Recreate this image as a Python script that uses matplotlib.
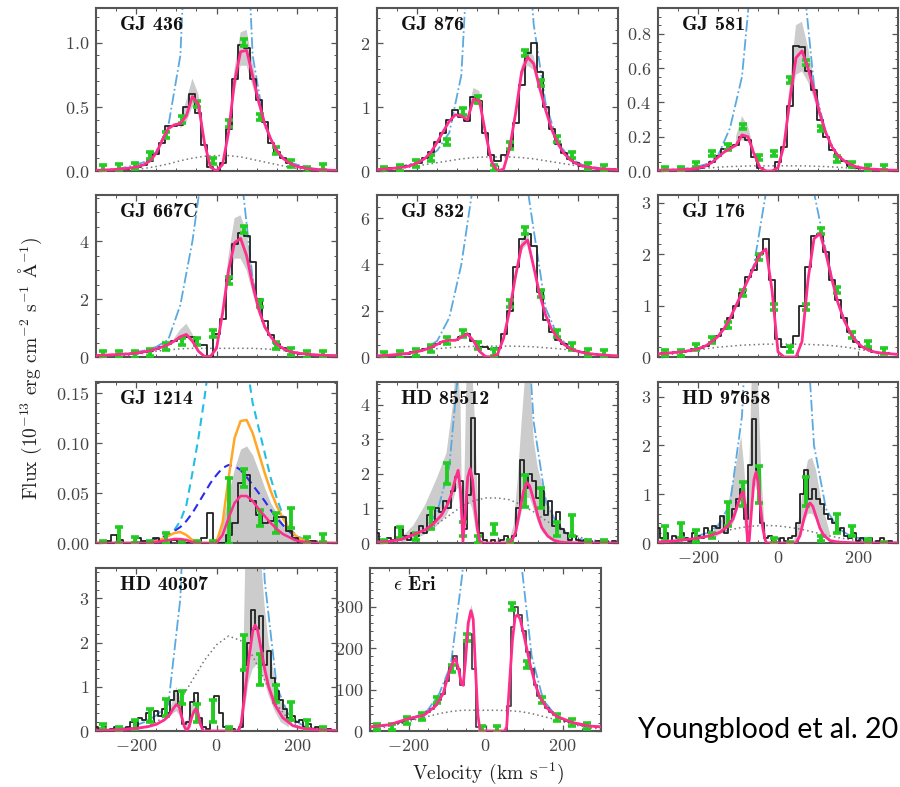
import numpy as np
import matplotlib
matplotlib.use("Agg")
import matplotlib.pyplot as plt
from matplotlib.ticker import MultipleLocator, AutoMinorLocator

nan = np.nan

# ---------------- velocity grids (km/s) ----------------
V15 = np.arange(-300, 301, 15)   # 41 pts: model / data of smooth panels
V30 = np.arange(-300, 301, 30)   # 21 pts: broad + intrinsic profiles
V10 = np.arange(-300, 301, 10)   # 61 pts: data of noisy panels
VG = np.arange(-282, 300, 39)    # 15 pts: green binned points

# ---------------- GJ 436 ----------------
gj436_model = [.005,.007,.009,.012,.015,.02,.026,.035,.05,.08,.14,.24,.33,.36,.37,.43,.58,.52,.22,.03,
               .0,.05,.3,.7,.93,.94,.74,.54,.37,.25,.16,.1,.065,.042,.028,.02,.014,.01,.008,.006,.005]
gj436_data = [.005,.004,.006,.01,.012,.015,.02,.03,.05,.08,.13,.22,.35,.35,.36,.5,.6,.45,.2,.03,
              .0,.06,.33,.72,.98,.96,.72,.55,.38,.22,.15,.1,.06,.04,.03,.02,.015,.01,.008,.005,.005]
gj436_band_v = [-90,-75,-60,-45,-30,nan,30,45,60,75,90,105]
gj436_band_lo = [.33,.38,.5,.45,.2,nan,.26,.62,.82,.82,.66,.5]
gj436_band_hi = [.4,.55,.72,.6,.26,nan,.34,.8,1.08,1.1,.84,.6]
gj436_broad = [0,.001,.004,.01,.02,.035,.055,.08,.1,.115,.12,.12,.11,.09,.07,.05,.03,.016,.007,.003,.001]
gj436_intr = [.005,.01,.02,.04,.07,.15,.35,.9,3,8,10,8,3,.9,.35,.15,.07,.04,.02,.01,.005]
gj436_green = [.02,.03,.04,.12,.28,.4,.52,.08,.37,1.0,.42,.16,.06,.01,.03]

# ---------------- GJ 876 ----------------
gj876_model = [.02,.03,.035,.045,.055,.07,.1,.14,.2,.3,.45,.62,.78,.88,.86,.8,1.12,1.1,.6,.15,
               .0,.03,.35,.9,1.55,1.78,1.68,1.3,.95,.65,.43,.28,.18,.12,.08,.06,.045,.035,.03,.025,.02]
gj876_data = [.02,.03,.04,.05,.06,.08,.1,.13,.2,.3,.45,.6,.8,.95,.85,.78,1.15,1.1,.6,.25,
              .15,.25,.35,.75,1.35,1.85,2.0,1.55,1.0,.65,.42,.28,.18,.12,.08,.06,.045,.035,.03,.025,.02]
gj876_band_v = [-75,-60,-45,-30,nan,45,60,75,90,105]
gj876_band_lo = [.75,1.05,1.02,.55,nan,.85,1.45,1.65,1.58,1.22]
gj876_band_hi = [.85,1.3,1.25,.65,nan,.95,1.65,1.92,1.8,1.38]
gj876_broad = [.01,.02,.04,.07,.1,.13,.16,.19,.21,.22,.22,.22,.21,.19,.16,.13,.1,.07,.04,.02,.01]
gj876_intr = [.02,.04,.07,.12,.2,.32,.6,1.5,5,12,15,12,5,2.3,1.05,.45,.2,.1,.06,.03,.02]
gj876_green = [.02,.05,.12,.2,.45,.93,1.12,.05,.4,1.85,1.38,.5,.25,.08,.04]

# ---------------- GJ 581 ----------------
gj581_model = [.005,.005,.006,.007,.008,.01,.013,.02,.03,.05,.08,.11,.13,.15,.21,.2,.1,.02,.0,.0,
               .02,.15,.42,.66,.7,.6,.47,.33,.22,.14,.09,.06,.04,.025,.018,.013,.01,.008,.006,.005,.005]
gj581_data = [.005,.005,.008,.007,.01,.01,.012,.02,.03,.05,.085,.13,.14,.15,.2,.18,.08,.02,.0,.0,
              .05,.14,.38,.73,.72,.58,.47,.3,.2,.12,.08,.06,.03,.02,.015,.012,.01,.008,.006,.005,.005]
gj581_band_v = [-105,-90,-75,-60,nan,15,30,45,60,75,90,105]
gj581_band_lo = [.14,.18,.17,.09,nan,.13,.36,.56,.58,.52,.42,.3]
gj581_band_hi = [.2,.32,.26,.13,nan,.18,.52,.85,.87,.72,.53,.36]
gj581_broad = [0,.002,.005,.01,.017,.022,.026,.028,.03,.03,.03,.03,.03,.028,.026,.022,.017,.01,.005,.002,0]
gj581_intr = [.005,.008,.012,.02,.04,.09,.25,.55,1.3,2.5,3,2.5,1.2,.5,.22,.08,.03,.015,.01,.007,.005]
gj581_green = [.01,.01,.04,.1,.14,.26,.08,.1,.53,.63,.25,.07,.04,.02,.02]

# ---------------- GJ 667C ----------------
gj667c_model = [.05,.06,.07,.08,.09,.1,.12,.15,.18,.22,.28,.35,.43,.55,.7,.78,.55,.2,.02,.02,
                .3,1.5,3.0,3.95,4.1,3.5,2.5,1.65,1.05,.7,.45,.3,.2,.15,.12,.1,.08,.07,.06,.05,.05]
gj667c_data = [.05,.06,.07,.08,.09,.1,.12,.14,.17,.2,.27,.35,.45,.55,.62,.7,.7,.4,.4,.0,
               .8,1.3,2.7,3.9,4.3,4.2,3.3,2.0,1.25,.75,.45,.3,.2,.15,.12,.1,.08,.07,.06,.05,.05]
gj667c_band_v = [-105,-90,-75,-60,-45,nan,15,30,45,60,75,90,105,120]
gj667c_band_lo = [.5,.62,.68,.48,.18,nan,1.3,2.6,3.4,3.4,3.0,2.2,1.5,1.0]
gj667c_band_hi = [.65,.95,1.15,.8,.3,nan,1.7,3.5,4.8,4.9,4.3,2.9,1.85,1.15]
gj667c_broad = [0,.01,.03,.07,.13,.2,.25,.28,.3,.3,.3,.3,.3,.3,.28,.25,.2,.13,.07,.03,.01]
gj667c_intr = [.05,.07,.1,.15,.22,.35,.6,1.8,4,7,9,8.5,6.5,2.7,1.0,.45,.22,.12,.08,.06,.05]
gj667c_green = [.1,.1,.1,.15,.35,.55,.55,.8,2.65,4.4,1.85,.4,.2,.1,.1]

# ---------------- GJ 832 ----------------
gj832_model = [.05,.06,.08,.1,.12,.15,.2,.25,.32,.42,.55,.68,.72,.72,.85,1.0,.7,.25,.02,.0,
               .12,.8,2.0,3.5,4.8,5.05,3.9,2.7,1.8,1.2,.8,.55,.38,.27,.2,.15,.12,.1,.08,.06,.05]
gj832_data = [.05,.06,.08,.1,.12,.15,.2,.25,.33,.42,.55,.65,.75,.75,.85,1.0,.7,.45,.45,.35,
              .4,1.0,2.0,3.9,5.1,5.3,4.8,2.8,1.6,1.1,.75,.55,.38,.27,.2,.15,.12,.1,.08,.06,.05]
gj832_band_v = [-90,-75,-60,nan,45,60,75,90]
gj832_band_lo = [.8,.95,.65,nan,3.3,4.6,4.9,3.8]
gj832_band_hi = [.95,1.1,.8,nan,3.7,5.1,5.4,4.1]
gj832_broad = [.05,.08,.14,.22,.3,.36,.4,.44,.46,.47,.47,.47,.46,.44,.4,.36,.3,.22,.14,.08,.05]
gj832_intr = [.05,.08,.12,.2,.35,.7,1.7,4.0,7.5,11,13,12,9,5.5,2.1,.9,.4,.2,.12,.08,.05]
gj832_green = [.07,.1,.2,.35,.7,1.0,.5,.2,2.3,5.45,2.75,1.0,.45,.2,.15]

# ---------------- GJ 176 ----------------
gj176_model = [.06,.07,.08,.09,.1,.12,.14,.17,.22,.3,.4,.55,.75,1.0,1.25,1.5,1.75,2.0,2.1,1.3,
               .1,.0,.0,.0,.3,1.5,2.3,2.4,2.0,1.5,1.05,.72,.48,.3,.2,.14,.1,.08,.07,.06,.05]
gj176_data = [.06,.07,.08,.09,.1,.12,.15,.18,.22,.3,.4,.55,.75,1.0,1.25,1.55,1.7,2.0,2.3,1.5,
              .35,.2,.2,.4,1.0,1.75,2.35,2.4,2.05,1.5,1.1,.75,.48,.3,.2,.15,.1,.08,.07,.06,.05]
gj176_broad = [.03,.05,.08,.12,.16,.19,.21,.23,.24,.25,.25,.25,.25,.24,.23,.21,.18,.14,.1,.07,.05]
gj176_intr = [.06,.08,.1,.15,.22,.4,.75,1.25,1.8,3.2,6,7,6,3.2,2.05,1.05,.48,.2,.1,.07,.05]
gj176_green = [.08,.08,.2,.33,.62,1.25,1.95,.98,.15,.98,2.45,1.3,.42,.25,.12]

# ---------------- GJ 1214 ----------------
gj1214_data = [0,0,.002,.008,.003,0,0,.005,.002,0,.005,.002,0,.003,.002,0,0,.002,.005,.03,
               0,0,.008,.02,.06,.068,.042,.028,.02,.022,.026,.026,.012,.005,0,0,.002,0,0,0,0]
gj1214_gray = [0,0,0,0,0,0,0,0,0,0,0,0,0,0,.004,.005,.003,0,0,0,
               .002,.02,.05,.075,.094,.097,.088,.072,.055,.04,.03,.02,.012,.006,.002,0,0,0,0,0,0]
gj1214_orange = [0,0,0,0,0,0,0,0,0,.001,.002,.004,.007,.01,.011,.008,.003,0,0,0,
                 .001,.02,.065,.105,.122,.123,.11,.09,.07,.052,.037,.025,.015,.008,.004,.002,.001,0,0,0,0]
gj1214_model = [0,0,0,0,0,0,0,0,0,0,.001,.002,.003,.004,.004,.003,.001,0,0,0,
                0,.008,.025,.04,.047,.047,.042,.034,.027,.02,.014,.009,.006,.003,.0015,.001,0,0,0,0,0]
gj1214_blue = [0,0,0,0,0,0,0,0,.001,.002,.004,.006,.008,.012,.016,.022,.03,.04,.05,.06,
               .068,.075,.078,.077,.073,.066,.058,.05,.042,.033,.025,.018,.012,.007,.004,.002,.001,0,0,0,0]
gj1214_cyan = [0,0,0,0,0,0,0,.001,.001,.002,.003,.005,.008,.013,.022,.038,.07,.105,.145,.19,
               .23,.26,.27,.26,.23,.18,.14,.115,.09,.065,.045,.028,.016,.009,.005,.003,.001,0,0,0,0]
gj1214_green = [0,.008,.003,0,.005,0,0,0,.032,.065,.025,.02,.025,.003,.005]
gj1214_gerr = [.002,.008,.003,.002,.005,.002,.002,.002,.033,.009,.008,.01,.01,.003,.004]

# ---------------- HD 85512 ----------------
hd85512_model_v = [-300,-270,-240,-210,-180,-160,-140,-125,-115,-105,-98,-92,-86,-80,-74,-68,-62,-56,-50,-44,
                   -35,0,25,35,45,55,65,73,80,90,100,110,125,140,155,170,200,240,300]
hd85512_model = [.02,.05,.1,.24,.38,.55,.8,1.1,1.4,1.85,2.1,1.5,.05,.9,1.9,2.15,1.8,1.0,.4,.05,
                 0,0,0,.05,.3,.9,1.5,1.75,1.65,1.25,.8,.45,.2,.08,.03,.01,0,0,0]
hd85512_data = [.3,.1,.05,.15,.1,.45,.4,.2,.1,.3,.2,.5,.3,.8,.6,1.0,.9,1.2,1.0,1.5,
                1.9,1.8,.4,1.4,3.6,2.0,.3,.1,.0,.1,.0,.1,.2,.1,.2,1.0,2.4,1.6,2.0,1.8,
                1.3,1.5,.8,1.2,.5,.9,.4,.3,.1,.2,.1,.05,.1,.05,.0,.05,.0,.05,.0,.05,.0]
hd85512_band_v = [-240,-210,-180,-150,-127,-111,-104,-98,-92,-87,-82,-77,-70,-63,-56,-50,-44,nan,
                  30,40,50,60,70,80,90,100,113,131,150,165,185]
hd85512_band_lo = [.02,.08,.25,.5,.8,1.2,1.5,1.6,1.0,0,.2,1.0,1.2,1.0,.5,.2,0,nan,
                   0,.1,.4,.9,1.3,1.3,1.0,.6,.3,.1,.05,.02,0]
hd85512_band_hi = [.15,.5,1.1,1.9,2.6,4.0,5,5,4,.1,2,5,5,5,3.5,1.5,.1,nan,
                   .1,.5,1.8,3.5,5,5,3,2.2,1.6,1.0,.6,.4,.1]
hd85512_broad = [.02,.05,.1,.2,.35,.55,.8,1.05,1.22,1.3,1.3,1.25,1.1,.9,.65,.45,.28,.15,.08,.04,.02]
hd85512_intr = [.01,.04,.1,.2,.4,.9,2.2,6,12,15,15,14,9,3.5,1.2,.5,.2,.1,.05,.02,.01]
hd85512_green = [.05,.3,.2,.7,2.0,.4,.1,.4,.05,1.5,1.3,.4,.5,.05,.05]
hd85512_gerr = [.05,.15,.1,.3,.3,.2,.1,.15,.05,.45,.3,.2,.3,.05,.05]

# ---------------- HD 97658 ----------------
hd97658_model_v = [-300,-250,-200,-170,-145,-125,-112,-100,-93,-87,-81,-76,-72,-66,-60,-55,-50,-44,-38,-32,
                   -28,0,45,55,65,75,80,87,95,105,115,130,150,200,300]
hd97658_model = [.02,.05,.1,.15,.22,.35,.5,.8,.98,1.05,.7,.02,.05,.7,1.3,1.45,1.25,.75,.3,.06,
                 0,0,0,.15,.5,.78,.82,.75,.55,.3,.15,.05,.02,0,0]
hd97658_data = [.3,.1,.2,.05,.15,.1,.2,.1,.05,.2,.15,.1,.3,.2,.35,.3,.55,.2,.45,.7,
                .9,1.1,.5,1.6,2.55,1.5,.4,.1,.15,.05,.0,.1,.05,.1,.15,.4,1.0,1.5,.9,1.1,
                .9,.8,.6,.5,.4,.2,.3,.15,.1,.2,.05,.1,.05,.1,.0,.05,.1,.0,.05,0,0]
hd97658_band_v = [-160,-130,-112,-100,-92,-85,-78,-72,-66,-58,-50,-42,-35,-28,nan,
                  40,55,65,75,85,95,110,130]
hd97658_band_lo = [.1,.25,.4,.7,.85,.5,.0,.3,1.0,1.2,1.0,.4,.1,0,nan,0,.1,.4,.6,.6,.5,.2,.02]
hd97658_band_hi = [.3,.6,1.29,1.8,2.2,1.6,.8,1.5,3.3,3.5,3.3,1.5,.5,.05,nan,.05,.6,1.3,1.7,1.75,1.5,.8,.2]
hd97658_broad = [.01,.02,.04,.08,.13,.2,.27,.32,.35,.36,.35,.32,.28,.22,.16,.11,.07,.04,.02,.01,.005]
hd97658_intr = [.01,.03,.06,.12,.2,.35,.8,2.6,8,12,12,10,6,2.0,.7,.3,.15,.08,.04,.02,.01]
hd97658_green = [.2,.26,.15,.15,.6,1.0,1.2,.05,0,1.05,.1,.4,.25,.05,0]
hd97658_gerr = [.15,.15,.12,.05,.25,.25,.38,.05,.02,.3,.05,.2,.1,.03,.02]

# ---------------- HD 40307 ----------------
hd40307_model_v = [-300,-240,-200,-170,-150,-130,-118,-108,-100,-93,-86,-80,-74,-68,-62,-56,-51,-46,-40,-33,
                   0,55,62,70,80,90,96,102,110,120,130,145,165,190,220,260,300]
hd40307_model = [.01,.03,.06,.1,.15,.25,.35,.5,.6,.55,.3,.1,.0,.1,.3,.45,.5,.4,.15,0,
                 0,0,.2,.8,1.6,2.25,2.4,2.3,1.9,1.4,1.0,.6,.3,.12,.05,.02,.01]
hd40307_data = [.1,.05,.1,.0,.05,.1,.0,.05,.1,.2,.1,.3,.25,.4,.2,.45,.35,.5,.4,.7,
                .9,.6,.15,.2,.65,.85,.3,.1,.05,.2,.8,.4,.1,.0,.05,.0,.1,1.5,2.0,2.75,
                2.3,2.6,1.5,1.8,1.2,.9,.7,.5,.3,.35,.2,.25,.1,.15,.05,.1,.05,.0,.05,.0,.0]
hd40307_band_v = [-120,-108,-100,-92,-85,-78,-70,-62,-55,-48,-40,-33,nan,
                  58,65,72,80,90,100,110,120,130,145,160,180]
hd40307_band_lo = [.3,.4,.45,.35,.15,0,.1,.3,.4,.3,.1,0,nan,0,.1,.6,1.1,1.4,1.5,1.4,1.1,.8,.45,.2,.08]
hd40307_band_hi = [.4,.7,1.0,.8,.4,.1,.3,.6,.8,.65,.3,.02,nan,.05,.8,4,4,4,4,4,2.8,2.0,1.2,.7,.3]
hd40307_broad = [0,0,.01,.03,.08,.2,.4,.7,1.15,1.6,1.95,2.15,2.05,1.7,1.15,.6,.25,.08,.02,0,0]
hd40307_intr = [.01,.02,.05,.1,.2,.35,.6,3.0,10,18,22,22,18,10,3.4,1.0,.35,.15,.06,.02,.01]
hd40307_green = [.1,.05,.15,.35,.53,.75,.4,.45,.05,1.78,1.4,.85,.45,.15,.05]
hd40307_gerr = [.06,.03,.1,.15,.2,.15,.2,.25,.03,.4,.35,.2,.2,.1,.03]

# ---------------- eps Eri ----------------
eri_model_v = [-300,-250,-200,-160,-130,-110,-95,-85,-78,-70,-63,-58,-52,-45,-38,-32,-26,-20,-14,0,
               50,55,62,70,77,83,90,100,116,130,142,160,185,228,270,300]
eri_model = [10,15,30,38,60,90,140,165,175,150,115,110,170,260,290,270,150,40,0,0,
             0,10,110,220,275,280,270,230,160,110,80,55,35,20,12,10]
eri_data = [10,10,12,12,15,15,18,20,22,25,28,30,33,36,40,45,52,62,75,90,
            120,160,180,150,110,220,235,150,10,0,0,0,0,0,0,0,60,250,300,280,
            240,190,150,110,85,70,55,45,38,32,28,25,22,20,17,15,13,12,11,10,10]
eri_band_v = [-52,-45,-38,-32,-26]
eri_band_lo = [155,245,275,255,135]
eri_band_hi = [185,275,305,285,165]
eri_broad = [5,8,13,20,28,35,42,47,50,50,50,50,49,47,42,35,28,20,13,8,5]
eri_intr = [10,13,18,25,35,50,90,160,380,900,1100,1000,700,430,180,75,40,25,18,13,10]
eri_green = [10,10,25,35,75,150,225,5,5,300,160,75,32,20,12]

# ---------------- style ----------------
plt.rcParams.update({
    "font.family": "serif",
    "font.serif": ["cmr10", "DejaVu Serif"],
    "mathtext.fontset": "cm",
    "axes.formatter.use_mathtext": True,
    "axes.unicode_minus": True,
})

PINK = "#ff2e8c"
GREEN = "#22cc22"
BAND = "#cccccc"
BLUE_I = "#5aa9e0"
DATA_C = "#222222"

W, H = 900, 787
fig = plt.figure(figsize=(9.0, 7.87), dpi=100)
fig.patch.set_facecolor("white")


def rect(x0, x1, y0, y1):
    return [x0 / W, 1 - y1 / H, (x1 - x0) / W, (y1 - y0) / H]


COLS = {1: (96, 337), 2: (377, 618), 3: (658, 898)}
ROWS = {1: (8, 171), 2: (195, 357), 3: (382, 543), 4: (568, 731)}


def style_axes(ax, ylim, ymajor, show_x, title):
    ax.set_xlim(-300, 300)
    ax.set_ylim(*ylim)
    ax.xaxis.set_major_locator(MultipleLocator(200))
    ax.xaxis.set_minor_locator(MultipleLocator(50))
    ax.yaxis.set_major_locator(MultipleLocator(ymajor))
    ax.yaxis.set_minor_locator(AutoMinorLocator())
    ax.tick_params(which="both", direction="in", top=True, right=True,
                   labelsize=13, labelcolor="#444444", color="#555555", pad=5)
    ax.tick_params(which="major", length=4, width=0.9)
    ax.tick_params(which="minor", length=2, width=0.7)
    if not show_x:
        ax.tick_params(labelbottom=False)
    for s in ax.spines.values():
        s.set_color("#555555")
        s.set_linewidth(1.5)
    ax.text(0.1, 0.895, title, transform=ax.transAxes, fontsize=14.5,
            fontfamily="cmb10", va="center", ha="left", color="#111111", zorder=10)


def draw_panel(ax, model_v, model, data_v, data, band_v, band_lo, band_hi,
               broad, intr, green, gerr, data_color=DATA_C):
    if len(band_v):
        ax.fill_between(band_v, band_lo, band_hi, color=BAND, lw=0, zorder=1)
    ax.plot(V30, broad, ls=(0, (1, 2)), color="#777777", lw=1.1, zorder=2)
    ax.plot(V30, intr, ls="-.", color=BLUE_I, lw=1.3, zorder=2)
    ax.step(data_v, data, where="mid", color=data_color, lw=1.3, zorder=3)
    ax.errorbar(VG, green, yerr=gerr, fmt="none", ecolor=GREEN, elinewidth=2.8,
                capsize=3.2, capthick=2.6, zorder=4)
    ax.plot(model_v, model, color=PINK, lw=2, zorder=5)


# Row 1
ax = fig.add_axes(rect(*COLS[1], *ROWS[1]))
draw_panel(ax, V15, gj436_model, V15, gj436_data, gj436_band_v, gj436_band_lo, gj436_band_hi,
           gj436_broad, gj436_intr, gj436_green, 0.025)
style_axes(ax, (0, 1.27), 0.5, False, "GJ 436")

ax = fig.add_axes(rect(*COLS[2], *ROWS[1]))
draw_panel(ax, V15, gj876_model, V15, gj876_data, gj876_band_v, gj876_band_lo, gj876_band_hi,
           gj876_broad, gj876_intr, gj876_green, 0.05)
style_axes(ax, (0, 2.55), 1, False, "GJ 876")

ax = fig.add_axes(rect(*COLS[3], *ROWS[1]))
draw_panel(ax, V15, gj581_model, V15, gj581_data, gj581_band_v, gj581_band_lo, gj581_band_hi,
           gj581_broad, gj581_intr, gj581_green, 0.015)
style_axes(ax, (0, 0.95), 0.2, False, "GJ 581")

# Row 2
ax = fig.add_axes(rect(*COLS[1], *ROWS[2]))
draw_panel(ax, V15, gj667c_model, V15, gj667c_data, gj667c_band_v, gj667c_band_lo, gj667c_band_hi,
           gj667c_broad, gj667c_intr, gj667c_green, 0.12)
style_axes(ax, (0, 5.6), 2, False, "GJ 667C")

ax = fig.add_axes(rect(*COLS[2], *ROWS[2]))
draw_panel(ax, V15, gj832_model, V15, gj832_data, gj832_band_v, gj832_band_lo, gj832_band_hi,
           gj832_broad, gj832_intr, gj832_green, 0.15)
style_axes(ax, (0, 7.0), 2, False, "GJ 832")

ax = fig.add_axes(rect(*COLS[3], *ROWS[2]))
draw_panel(ax, V15, gj176_model, V15, gj176_data, [], [], [],
           gj176_broad, gj176_intr, gj176_green, 0.06)
style_axes(ax, (0, 3.15), 1, False, "GJ 176")

# Row 3
ax = fig.add_axes(rect(*COLS[1], *ROWS[3]))
ax.fill_between(V15, 0, gj1214_gray, color="#c8c8c8", lw=0, zorder=1)
ax.plot(V15, gj1214_cyan, ls=(0, (4, 2.5)), color="#22bfe0", lw=1.5, zorder=2)
ax.plot(V15, gj1214_blue, ls=(0, (4, 2.5)), color="#2a2af0", lw=1.5, zorder=2)
ax.plot(V15, gj1214_orange, color="#ffa726", lw=1.8, zorder=3)
ax.step(V15, gj1214_data, where="mid", color=DATA_C, lw=1.3, zorder=3)
ax.errorbar(VG, gj1214_green, yerr=gj1214_gerr, fmt="none", ecolor=GREEN, elinewidth=2.8,
            capsize=3.2, capthick=2.6, zorder=4)
ax.plot(V15, gj1214_model, color=PINK, lw=1.8, zorder=5)
style_axes(ax, (0, 0.161), 0.05, False, "GJ 1214")

ax = fig.add_axes(rect(*COLS[2], *ROWS[3]))
draw_panel(ax, hd85512_model_v, hd85512_model, V10, hd85512_data, hd85512_band_v, hd85512_band_lo,
           hd85512_band_hi, hd85512_broad, hd85512_intr, hd85512_green, hd85512_gerr)
style_axes(ax, (0, 4.65), 1, False, "HD 85512")

ax = fig.add_axes(rect(*COLS[3], *ROWS[3]))
draw_panel(ax, hd97658_model_v, hd97658_model, V10, hd97658_data, hd97658_band_v, hd97658_band_lo,
           hd97658_band_hi, hd97658_broad, hd97658_intr, hd97658_green, hd97658_gerr)
style_axes(ax, (0, 3.3), 1, True, "HD 97658")

# Row 4
ax = fig.add_axes(rect(*COLS[1], *ROWS[4]))
draw_panel(ax, hd40307_model_v, hd40307_model, V10, hd40307_data, hd40307_band_v, hd40307_band_lo,
           hd40307_band_hi, hd40307_broad, hd40307_intr, hd40307_green, hd40307_gerr)
style_axes(ax, (0, 3.69), 1, True, "HD 40307")

ax = fig.add_axes(rect(370, 601, *ROWS[4]))
draw_panel(ax, eri_model_v, eri_model, V10, eri_data, eri_band_v, eri_band_lo, eri_band_hi,
           eri_broad, eri_intr, eri_green, 8, data_color="#444444")
style_axes(ax, (0, 393), 100, True, r"$\epsilon$ Eri")

# Figure labels
fig.text(30 / W, 1 - 368 / H,
         r"Flux (10$^{-13}$ erg cm$^{-2}$ s$^{-1}$ $\mathrm{\AA}^{-1}$)",
         rotation=90, ha="center", va="center", fontsize=14, color="#222222")
fig.text(488 / W, 1 - 773 / H, r"Velocity (km s$^{-1}$)",
         ha="center", va="center", fontsize=14, color="#222222")
fig.text(638 / W, 1 - 738 / H, "Youngblood et al. 20", fontsize=20.5,
         family=["Lato", "DejaVu Sans"], ha="left", va="baseline", color="black")

fig.savefig("out.png", dpi=100, facecolor="white")
